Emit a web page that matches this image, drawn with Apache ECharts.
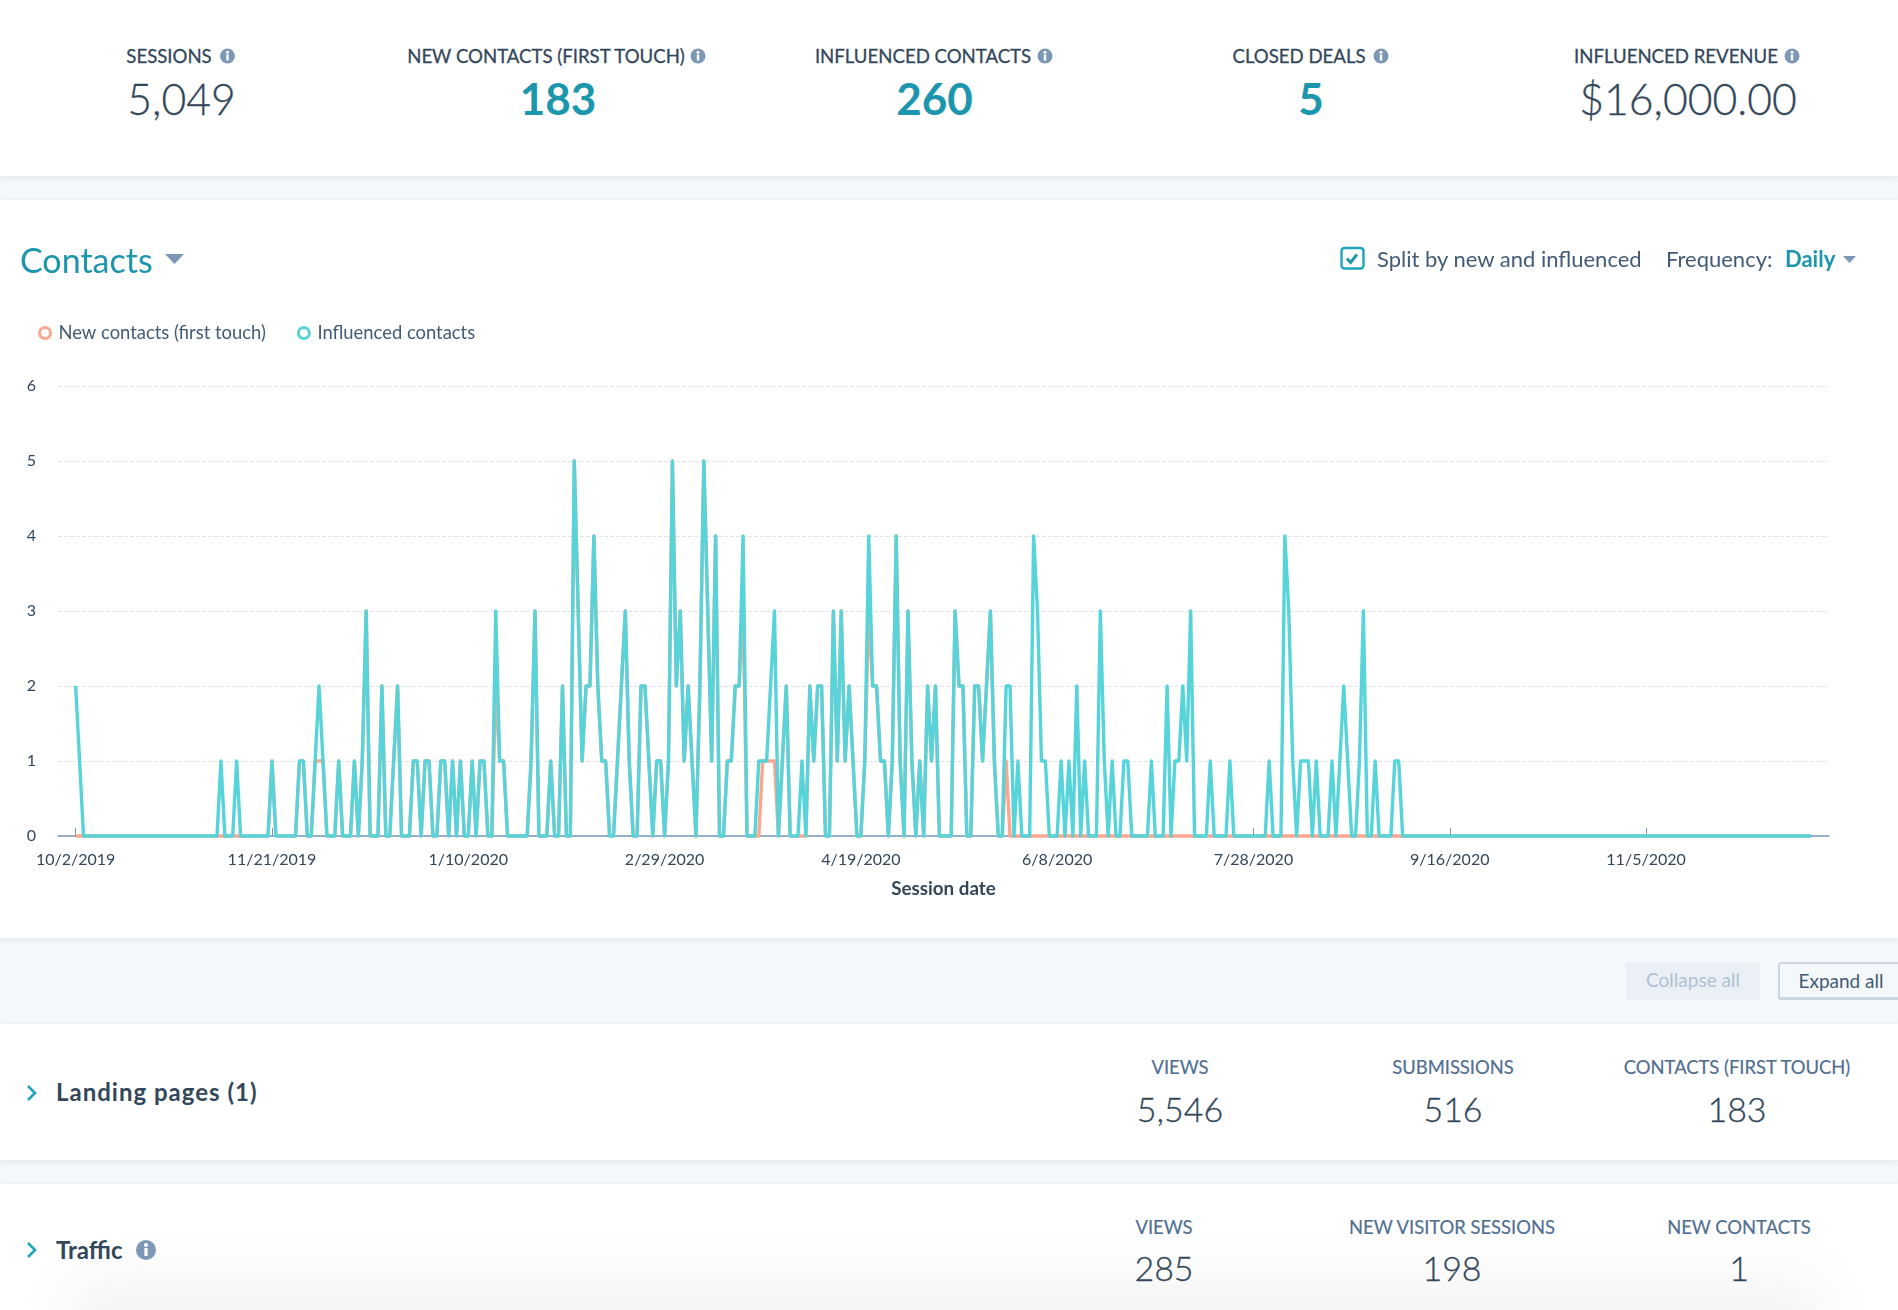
<!DOCTYPE html>
<html>
<head>
<meta charset="utf-8">
<title>Contacts</title>
<script src="https://cdn.jsdelivr.net/npm/echarts@6/dist/echarts.min.js"></script>
<style>
html, body { margin: 0; padding: 0; background: #f5f8fa; }
body { position: relative; width: 1898px; height: 1310px; overflow: hidden; font-family: Lato, "Open Sans", sans-serif; color: #33475b; }
.panel { position: absolute; left: 0; width: 1898px; background: #fff; box-shadow: 0 2px 6px rgba(45, 62, 80, 0.10); }
.txt { position: absolute; white-space: nowrap; transform: translate(-50%, -50%); }
.left { transform: translate(0, -50%); }
.kpi { font-size: 18.6px; color: #33475b; -webkit-text-stroke: 0.3px #33475b; }
.val { font-size: 42.7px; font-weight: 300; color: #33475b; -webkit-text-stroke: 0.3px #33475b; }
.hot { font-size: 44px; font-weight: 700; color: #1c96ad; -webkit-text-stroke: 0; }
.sub { font-size: 18.4px; color: #516f90; -webkit-text-stroke: 0.2px #516f90; }
.num { font-size: 34px; font-weight: 300; color: #33475b; -webkit-text-stroke: 0.3px #33475b; }
.ctl { font-size: 22px; color: #425b76; }
.sec { font-size: 24px; font-weight: 700; color: #33475b; }
.btn { position: absolute; top: 962px; height: 38px; line-height: 35px; text-align: center; font-size: 19px; border-radius: 3px; box-sizing: border-box; }
svg { position: absolute; overflow: visible; }
#chart { position: absolute; left: 0; top: 200px; width: 1898px; height: 738px; }
#fade { position: absolute; left: 70px; width: 1750px; top: 1282px; height: 70px; background: #f2f2f2; filter: blur(30px); }
</style>
</head>
<body>
<div class="panel" style="top:0;height:176px"></div>
<div class="panel" style="top:200px;height:738px"></div>
<div class="panel" style="top:1024px;height:136px"></div>
<div class="panel" style="top:1184px;height:126px;overflow:hidden"></div>
<div id="fade"></div>
<div id="chart"></div>
<div class="btn" style="left:1626px;width:134px;background:#eaf0f6;color:#b0c1d4">Collapse all</div>
<div class="btn" style="left:1778px;width:140px;background:#f5f8fa;color:#425b76;border:2px solid #cbd6e2;border-bottom-width:3px;padding-right:14px;line-height:33px">Expand all</div>
<script>
// daily values, day 0 is 10/2/2019
var influencedContacts = [
	2,1,0,0,0,0,0,0,0,0,
	0,0,0,0,0,0,0,0,0,0,
	0,0,0,0,0,0,0,0,0,0,
	0,0,0,0,0,0,0,1,0,0,
	0,1,0,0,0,0,0,0,0,0,
	1,0,0,0,0,0,0,1,1,0,
	0,1,2,1,0,0,0,1,0,0,
	0,1,0,1,3,0,0,0,2,0,
	0,1,2,0,0,0,1,1,0,1,
	1,0,0,1,1,0,1,0,1,0,
	0,1,0,1,1,0,0,3,1,1,
	0,0,0,0,0,0,1,3,0,0,
	0,1,0,0,2,0,0,5,3,1,
	2,2,4,2,1,1,0,0,1,2,
	3,1,0,0,2,2,1,0,1,1,
	0,1,5,2,3,1,2,1,0,2,
	5,3,1,4,0,0,1,1,2,2,
	4,0,0,0,1,1,1,2,3,0,
	1,2,0,0,0,1,0,2,1,2,
	2,0,0,3,1,3,1,2,1,0,
	0,1,4,2,2,1,1,0,1,4,
	1,0,3,1,0,1,0,2,1,2,
	0,0,0,0,3,2,2,0,0,2,
	2,1,2,3,1,0,0,2,2,0,
	1,0,0,0,4,3,1,1,0,0,
	0,1,0,1,0,2,0,1,0,0,
	0,3,1,0,1,0,0,1,1,0,
	0,0,0,0,1,0,0,0,2,0,
	1,1,2,1,3,0,0,0,0,1,
	0,0,0,0,1,0,0,0,0,0,
	0,0,0,0,1,0,0,0,4,3,
	1,0,1,1,1,0,1,0,0,0,
	1,0,1,2,1,0,0,1,3,0,
	0,1,0,0,0,0,1,1,0,0,
	0,0,0,0,0,0,0,0,0,0,
	0,0,0,0,0,0,0,0,0,0,
	0,0,0,0,0,0,0,0,0,0,
	0,0,0,0,0,0,0,0,0,0,
	0,0,0,0,0,0,0,0,0,0,
	0,0,0,0,0,0,0,0,0,0,
	0,0,0,0,0,0,0,0,0,0,
	0,0,0,0,0,0,0,0,0,0,
	0,0,0,0,0,0,0,0,0,0,
	0,0,0,0,0,0,0,0,0,0,
	0,0,0
];
// new contacts, mostly hidden under the other line
var newContacts = [
	0,0,0,0,0,0,0,0,0,0,
	0,0,0,0,0,0,0,0,0,0,
	0,0,0,0,0,0,0,0,0,0,
	0,0,0,0,0,0,0,0,0,0,
	0,0,0,0,0,0,0,0,0,0,
	1,0,0,0,0,0,0,1,1,0,
	0,1,1,1,0,0,0,1,0,0,
	0,1,0,1,3,0,0,0,2,0,
	0,1,2,0,0,0,1,1,0,1,
	1,0,0,1,1,0,1,0,1,0,
	0,1,0,1,1,0,0,2,1,1,
	0,0,0,0,0,0,1,3,0,0,
	0,1,0,0,2,0,0,5,3,1,
	2,2,4,2,1,1,0,0,1,2,
	3,1,0,0,2,2,1,0,1,1,
	0,1,5,2,3,1,2,1,0,2,
	5,3,1,4,0,0,1,1,2,2,
	3,0,0,0,0,1,1,1,1,0,
	1,2,0,0,0,0,0,2,1,2,
	2,0,0,3,1,3,1,2,1,0,
	0,1,3,2,2,1,1,0,1,4,
	1,0,3,1,0,1,0,2,1,2,
	0,0,0,0,3,2,2,0,0,2,
	2,1,2,3,1,0,0,1,0,0,
	0,0,0,0,0,0,0,0,0,0,
	0,0,0,0,0,0,0,0,0,0,
	0,0,0,0,0,0,0,0,0,0,
	0,0,0,0,0,0,0,0,0,0,
	0,0,0,0,0,0,0,0,0,0,
	0,0,0,0,0,0,0,0,0,0,
	0,0,0,0,0,0,0,0,0,0,
	0,0,0,0,0,0,0,0,0,0,
	0,0,0,0,0,0,0,0,0,0,
	0,0,0,0,0,0,0,0,0,0,
	0,0,0,0,0,0,0,0,0,0,
	0,0,0,0,0,0,0,0,0,0,
	0,0,0,0,0,0,0,0,0,0,
	0,0,0,0,0,0,0,0,0,0,
	0,0,0,0,0,0,0,0,0,0,
	0,0,0,0,0,0,0,0,0,0,
	0,0,0,0,0,0,0,0,0,0,
	0,0,0,0,0,0,0,0,0,0,
	0,0,0,0,0,0,0,0,0,0,
	0,0,0,0,0,0,0,0,0,0,
	0,0,0
];
var tickDays = [0, 50, 100, 150, 200, 250, 300, 350, 400];
var tickLabels = ['10/2/2019', '11/21/2019', '1/10/2020', '2/29/2020', '4/19/2020', '6/8/2020', '7/28/2020', '9/16/2020', '11/5/2020'];
var yTicks = [0, 1, 2, 3, 4, 5, 6];

function put(text, x, y, cls) {
	var d = document.createElement('div');
	d.className = 'txt ' + cls;
	d.textContent = text;
	d.style.left = x + 'px';
	d.style.top = y + 'px';
	document.body.appendChild(d);
}
function icon(inner) {
	var s = document.createElementNS('http://www.w3.org/2000/svg', 'svg');
	s.setAttribute('width', 40);
	s.setAttribute('height', 40);
	s.setAttribute('style', 'left:0;top:0');
	s.innerHTML = inner;
	document.body.appendChild(s);
}
function info(x, y, r) {
	icon('<circle cx="' + x + '" cy="' + y + '" r="' + r + '" fill="#7c98b6"/>' +
		'<rect x="' + (x - r * 0.16) + '" y="' + (y - r * 0.2) + '" width="' + (r * 0.32) + '" height="' + (r * 0.8) + '" fill="#fff"/>' +
		'<circle cx="' + x + '" cy="' + (y - r * 0.5) + '" r="' + (r * 0.2) + '" fill="#fff"/>');
}
function caret(x, y, w, h) {
	icon('<path d="M' + x + ' ' + y + 'h' + w + 'l' + (-w / 2) + ' ' + h + 'z" fill="#7c98b6"/>');
}
function chevron(x, y) {
	icon('<path d="M' + x + ' ' + (y - 7) + 'l7 7l-7 7" fill="none" stroke="#1ea5bb" stroke-width="2.6"/>');
}

// top row
put('SESSIONS', 169, 56, 'kpi');
put('NEW CONTACTS (FIRST TOUCH)', 546, 56, 'kpi');
put('INFLUENCED CONTACTS', 923, 56, 'kpi');
put('CLOSED DEALS', 1299, 56, 'kpi');
put('INFLUENCED REVENUE', 1676, 56, 'kpi');
put('5,049', 181.5, 98, 'val');
put('183', 558, 98, 'val hot');
put('260', 934.5, 98, 'val hot');
put('5', 1311, 98, 'val hot');
put('$16,000.00', 1688, 98, 'val');
info(227.5, 56, 7.5);
info(698, 56, 7.5);
info(1045, 56, 7.5);
info(1381, 56, 7.5);
info(1792, 56, 7.5);

// chart header
put('Contacts', 20, 259, 'left');
document.body.lastChild.style.cssText += ';font-size:34px;color:#1c96ad';
caret(165, 254, 19, 10);
icon('<rect x="1341.5" y="248" width="22" height="20.5" rx="3" fill="#fff" stroke="#1ea5bb" stroke-width="2.4"/>' +
	'<path d="M1347 258.5l3.6 4l6.4 -8" fill="none" stroke="#1c96ad" stroke-width="3"/>');
put('Split by new and influenced', 1377, 258, 'ctl left');
put('Frequency:', 1666, 258, 'ctl left');
put('Daily', 1785, 258, 'ctl left');
document.body.lastChild.style.cssText += ';font-weight:700;color:#1c96ad';
caret(1843, 256, 13, 7);

// lower rows
chevron(28, 1093);
put('Landing pages (1)', 56, 1091, 'sec left');
document.body.lastChild.style.letterSpacing = '1px';
put('VIEWS', 1180, 1067, 'sub');
put('SUBMISSIONS', 1453, 1067, 'sub');
put('CONTACTS (FIRST TOUCH)', 1737, 1067, 'sub');
put('5,546', 1180, 1108, 'num');
put('516', 1453, 1108, 'num');
put('183', 1737, 1108, 'num');
chevron(28, 1250);
put('Traffic', 56, 1249, 'sec left');
info(146, 1250, 10);
put('VIEWS', 1164, 1227, 'sub');
put('NEW VISITOR SESSIONS', 1452, 1227, 'sub');
put('NEW CONTACTS', 1739, 1227, 'sub');
put('285', 1164, 1267, 'num');
put('198', 1452, 1267, 'num');
put('1', 1739, 1267, 'num');

function toPairs(values) {
	var out = [];
	for (var i = 0; i < values.length; i++) {
		out.push([i, values[i]]);
	}
	return out;
}

var myChart = echarts.init(document.getElementById('chart'));
var orange = '#fea58e';
var teal = '#56d4da';
var option = {
	animation : false,
	textStyle : {
		fontFamily : 'Lato'
	},
	legend : {
		left : 33,
		top : 119,
		icon : 'circle',
		itemWidth : 11,
		itemHeight : 11,
		itemGap : 31,
		textStyle : {
			fontSize : 18.4,
			color : '#425b76',
			padding : [ 0, 0, 0, 3 ]
		},
		data : [ {
			name : 'New contacts (first touch)',
			itemStyle : { color : '#fff', borderColor : orange, borderWidth : 3 }
		}, {
			name : 'Influenced contacts',
			itemStyle : { color : '#fff', borderColor : teal, borderWidth : 3 }
		} ]
	},
	grid : {
		left : 58,
		right : 69,
		top : 186,
		bottom : 102
	},
	xAxis : {
		type : 'value',
		min : -4.5,
		max : 446.6,
		name : 'Session date',
		nameLocation : 'middle',
		nameGap : 43,
		nameTextStyle : {
			fontSize : 18.8,
			fontWeight : 'bold',
			color : '#33475b'
		},
		splitLine : { show : false },
		axisLine : {
			onZero : false,
			lineStyle : { color : '#7c98b6', width : 1.5 }
		},
		axisTick : {
			inside : true,
			length : 8,
			customValues : tickDays,
			lineStyle : { color : '#7c98b6' }
		},
		axisLabel : {
			customValues : tickDays,
			margin : 16,
			fontSize : 16,
			color : '#33475b',
			formatter : function(v) {
				return tickLabels[tickDays.indexOf(v)];
			}
		}
	},
	yAxis : {
		type : 'value',
		min : 0,
		max : 6,
		interval : 1,
		axisLine : { show : false },
		axisTick : { show : false },
		axisLabel : {
			margin : 22,
			fontSize : 16,
			color : '#33475b',
			formatter : function(v) {
				return yTicks[v];
			}
		},
		splitLine : {
			lineStyle : { color : '#dfe3eb', type : 'dashed', width : 1 }
		}
	},
	series : [ {
		name : 'New contacts (first touch)',
		type : 'line',
		data : toPairs(newContacts),
		showSymbol : false,
		clip : false,
		lineStyle : { color : orange, width : 3.4, join : 'round' },
		itemStyle : { color : orange }
	}, {
		name : 'Influenced contacts',
		type : 'line',
		data : toPairs(influencedContacts),
		showSymbol : false,
		clip : false,
		lineStyle : { color : teal, width : 3.4, join : 'round' },
		itemStyle : { color : teal }
	} ]
};
myChart.setOption(option);
</script>
</body>
</html>
